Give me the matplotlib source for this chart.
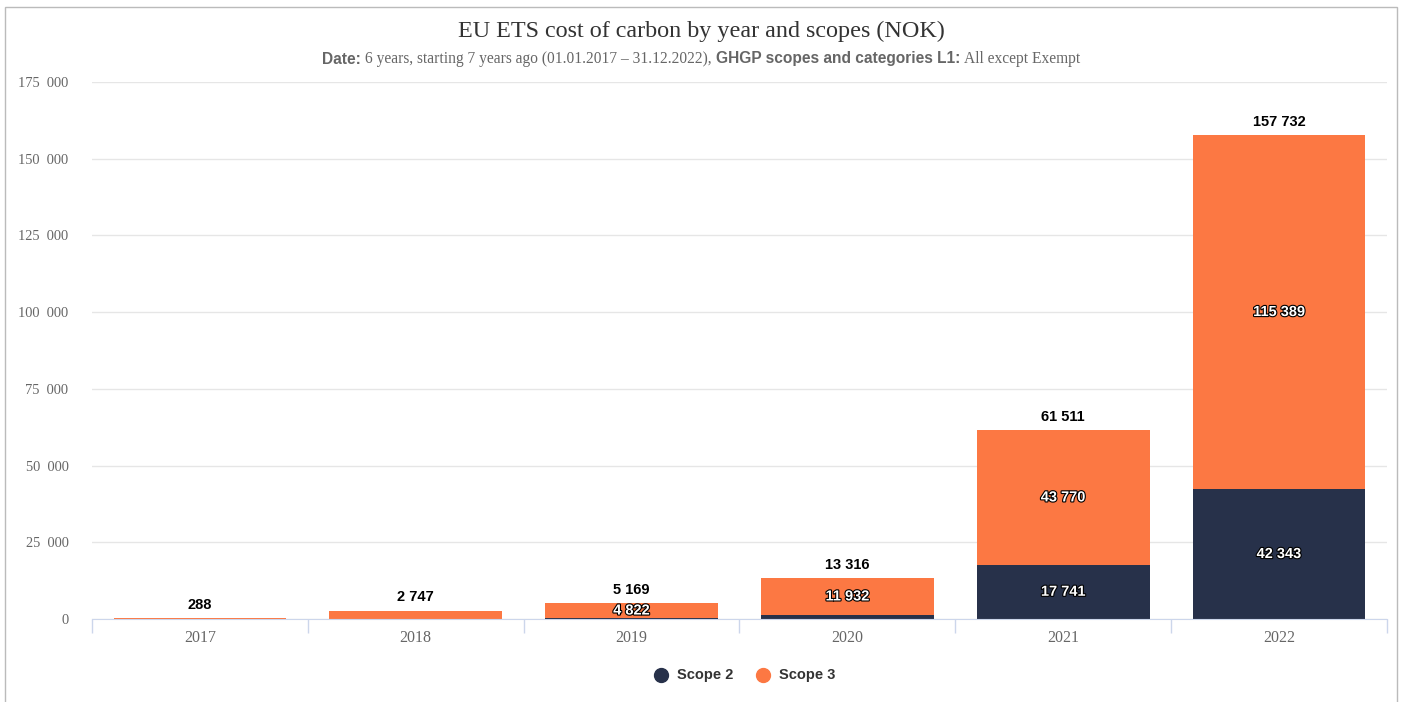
import matplotlib
matplotlib.use("Agg")
import matplotlib.pyplot as plt
import matplotlib.patheffects as pe
from matplotlib.patches import Rectangle
import numpy as np

# data
years = ["2017", "2018", "2019", "2020", "2021", "2022"]
scope2 = [0, 0, 347, 1384, 17741, 42343]
scope3 = [288, 2747, 4822, 11932, 43770, 115389]
totals = [288, 2747, 5169, 13316, 61511, 157732]
yticks = [0, 25000, 50000, 75000, 100000, 125000, 150000, 175000]

c_s2 = "#27314a"
c_s3 = "#fc7843"
serif = "Liberation Serif"
sans = "Liberation Sans"


def fmt(v):
    return f"{v:,}".replace(",", " ")


fig = plt.figure(figsize=(14.03, 7.02), dpi=100)
ax = fig.add_axes([92 / 1403, 1 - 619 / 702, (1387 - 92) / 1403, (619 - 82) / 702])

x = np.arange(len(years))
w = 0.8
ax.bar(x, scope2, w, color=c_s2, zorder=2)
ax.bar(x, scope3, w, bottom=scope2, color=c_s3, zorder=2)

ax.set_xlim(-0.5, len(years) - 0.5)
ax.set_ylim(0, 175000)
ax.set_yticks(yticks)
ax.set_yticklabels([fmt(v).replace(" ", "  ") for v in yticks], family=serif,
                   fontsize=10.4, color="#666666")
ax.grid(axis="y", color="#e6e6e6", linewidth=1, zorder=0)
ax.tick_params(axis="y", length=0, pad=17)
ax.set_xticks(x)
ax.set_xticklabels(years, family=serif, fontsize=11.5, color="#666666")
ax.tick_params(axis="x", length=0, pad=8)
# category boundary ticks
ax.set_xticks(np.arange(len(years) + 1) - 0.5, minor=True)
ax.tick_params(axis="x", which="minor", length=10, color="#ccd6eb", width=1)
for s in ["top", "right", "left"]:
    ax.spines[s].set_visible(False)
ax.spines["bottom"].set_color("#ccd6eb")

outline = [pe.withStroke(linewidth=1.6, foreground="black")]
for i in range(len(years)):
    ax.text(x[i], totals[i] + 2100, fmt(totals[i]), ha="center", va="bottom",
            family=sans, fontsize=10.5, fontweight="bold", color="black")
    for bottom, val in ((0, scope2[i]), (scope2[i], scope3[i])):
        if val >= 3000:
            ax.text(x[i], bottom + val / 2, fmt(val), ha="center", va="center",
                    family=sans, fontsize=10.5, fontweight="bold", color="white",
                    path_effects=outline, zorder=3)

# title
fig.text(0.5, 1 - 31 / 702, "EU ETS cost of carbon by year and scopes (NOK)",
         ha="center", va="center", family=serif, fontsize=17.4, color="#333333")

# subtitle built from pieces with mixed fonts
pieces = [
    ("Date: ", sans, "bold"),
    ("6 years, starting 7 years ago (01.01.2017 \u2013 31.12.2022), ", serif, "normal"),
    ("GHGP scopes and categories L1: ", sans, "bold"),
    ("All except Exempt", serif, "normal"),
]
sub_y = 1 - 59 / 702
texts = []
for s, fam, wt in pieces:
    texts.append(fig.text(0, sub_y, s, ha="left", va="center", family=fam,
                          fontweight=wt, fontsize=11.2, color="#666666"))
fig.canvas.draw()
r = fig.canvas.get_renderer()
widths = [t.get_window_extent(r).width for t in texts]
total = sum(widths)
xpos = (1403 - total) / 2
for t, wd in zip(texts, widths):
    t.set_x(xpos / 1403)
    xpos += wd

# legend
ly = 1 - 675 / 702
for cx, col, lab in ((661, c_s2, "Scope 2"), (763, c_s3, "Scope 3")):
    fig.add_artist(plt.Line2D([cx / 1403], [ly], marker="o", markersize=10,
                              color=col, linestyle="none"))
    fig.text((cx + 16) / 1403, ly, lab, ha="left", va="center", family=sans,
             fontsize=10.5, fontweight="bold", color="#333333")

# outer frame
fig.add_artist(Rectangle((5 / 1403, -0.05), (1397 - 5) / 1403, 1.05 - 7 / 702,
                         transform=fig.transFigure, fill=False,
                         edgecolor="#bbbbbb", linewidth=1))

fig.savefig("out.png", dpi=100)
